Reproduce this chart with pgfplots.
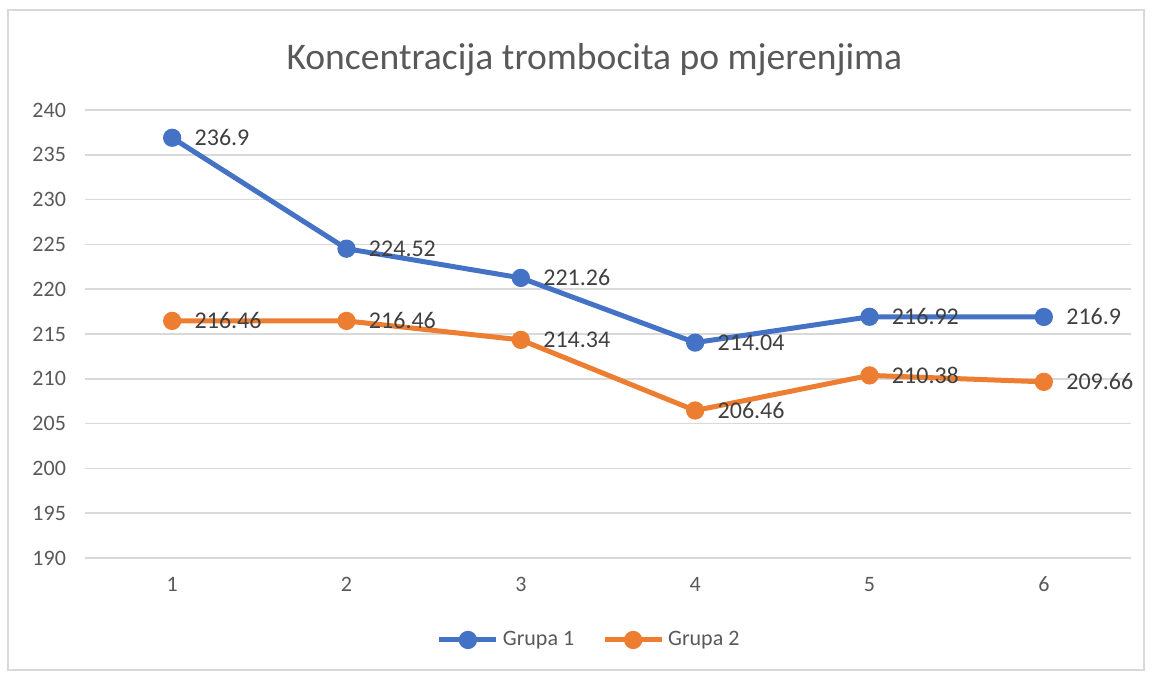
\documentclass[border=0pt]{standalone}
\usepackage{pgfplots}
\pgfplotsset{compat=1.18}
\usepackage{fontspec}
\setmainfont{Carlito}
\definecolor{cblue}{HTML}{4472C4}
\definecolor{corange}{HTML}{ED7D31}
\definecolor{gridc}{HTML}{D9D9D9}
\definecolor{txt}{HTML}{595959}
\definecolor{lbl}{HTML}{404040}
\begin{document}
\begin{tikzpicture}
\useasboundingbox (-42.5pt,-60pt) rectangle (533.5pt,279pt);
\draw[gridc, line width=0.8pt] (-38.5pt,-56pt) rectangle (529.5pt,274pt);
\begin{axis}[
  scale only axis,
  width=523pt, height=224pt,
  xmin=0.5, xmax=6.5, ymin=190, ymax=240,
  xtick={1,2,3,4,5,6},
  ytick={190,195,...,240},
  axis line style={draw=none},
  tick style={draw=none},
  ymajorgrids, grid style={gridc, line width=0.8pt},
  /pgf/number format/assume math mode=true,
  ticklabel style={font=\fontsize{11}{13}\selectfont, text=txt},
  yticklabel style={xshift=-6pt},
  xticklabel style={yshift=-6pt},
  title={Koncentracija trombocita po mjerenjima},
  title style={font=\fontsize{18.8}{22}\selectfont, text=txt, at={(0.487,1)}, anchor=center, yshift=19pt},
  nodes near coords,
  every node near coord/.append style={anchor=west, inner sep=0pt, xshift=10pt, font=\fontsize{12}{14}\selectfont, text=lbl},
  point meta=explicit symbolic,
  legend style={at={(0.483,-0.183)}, anchor=center, draw=none, legend columns=2,
    font=\fontsize{11}{13}\selectfont, text=txt,
    /tikz/every even column/.append style={column sep=12pt}},
  legend image code/.code={\draw[mark repeat=2,mark phase=2] plot coordinates {(0cm,0cm) (0.5cm,0cm) (1.0cm,0cm)};},
]
\addplot[cblue, line width=2.5pt, mark=*, mark size=3.3pt, mark options={solid}] coordinates {
 (1,236.9)[236.9] (2,224.52)[224.52] (3,221.26)[221.26] (4,214.04)[214.04] (5,216.92)[216.92] (6,216.9)[216.9]};
\addlegendentry{Grupa 1}
\addplot[corange, line width=2.5pt, mark=*, mark size=3.3pt, mark options={solid}] coordinates {
 (1,216.46)[216.46] (2,216.46)[216.46] (3,214.34)[214.34] (4,206.46)[206.46] (5,210.38)[210.38] (6,209.66)[209.66]};
\addlegendentry{Grupa 2}
\end{axis}
\end{tikzpicture}
\end{document}
